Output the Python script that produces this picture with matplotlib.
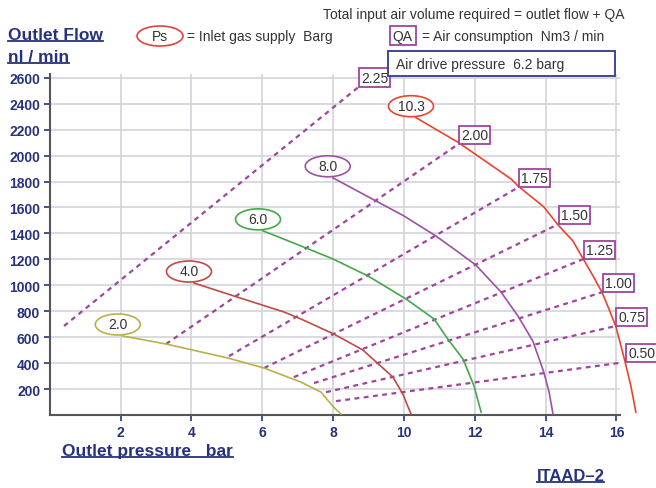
import matplotlib

matplotlib.use("Agg")
import matplotlib.pyplot as plt
from matplotlib.lines import Line2D
from matplotlib.patches import Ellipse, Rectangle
from matplotlib.transforms import ScaledTranslation

plt.rcParams["font.family"] = ["Liberation Sans", "DejaVu Sans"]

# inlet gas supply curves (Ps, barg)
ps_labels = ["2.0", "4.0", "6.0", "8.0", "10.3"]
ps_colors = ["#b8b04c", "#bf4b43", "#44a84a", "#9d50a6", "#e8442f"]
ps_x = [
    [2.06, 3.28, 5.03, 6.05, 7.09, 7.66, 7.99, 8.22],
    [4.07, 5.2, 6.61, 7.09, 8.02, 8.84, 9.69, 9.97, 10.2],
    [6.02, 7.09, 7.99, 8.98, 10.06, 10.85, 11.24, 11.67, 11.98, 12.18],
    [7.99, 9.15, 10.0, 10.9, 11.41, 12.03, 12.74, 13.22, 13.64, 13.95, 14.1, 14.21],
    [10.34, 11.55, 13.02, 13.25, 13.95, 14.35, 14.77, 15.08, 15.34, 15.59,
     15.79, 15.99, 16.24, 16.41, 16.55],
]
ps_y = [
    [610, 548, 440, 363, 255, 177, 69, 8],
    [1018, 918, 795, 741, 625, 502, 293, 162, 8],
    [1420, 1304, 1204, 1073, 895, 741, 586, 432, 224, 23],
    [1829, 1659, 1535, 1381, 1281, 1157, 949, 764, 571, 332, 177, 8],
    [2292, 2099, 1821, 1759, 1605, 1466, 1343, 1196, 1073, 949,
     818, 679, 417, 224, 23],
]

# air consumption lines (QA, Nm3/min)
qa_labels = ["2.25", "2.00", "1.75", "1.50", "1.25", "1.00", "0.75", "0.50"]
qa_x0 = [0.4, 3.28, 5.06, 6.05, 6.89, 7.46, 7.8, 8.08]
qa_y0 = [687, 548, 455, 363, 293, 247, 177, 108]
qa_x1 = [8.73, 11.55, 13.25, 14.38, 15.08, 15.62, 15.99, 16.27]
qa_y1 = [2531, 2091, 1759, 1474, 1204, 949, 687, 409]

x_ticks = [2, 4, 6, 8, 10, 12, 14, 16]
y_ticks = list(range(200, 2601, 200))

navy = "#26327e"
qa_color = "#a0449e"
text_color = "#333333"

fig = plt.figure(figsize=(6.56, 4.89), dpi=100)
ax = fig.add_axes([0.076, 0.149, 0.869, 0.698])

for x in x_ticks:
    ax.axvline(x, color="#d3d3dc", lw=1.2, zorder=0)
for y in y_ticks:
    ax.axhline(y, color="#d3d3dc", lw=1.2, zorder=0)

for x0, y0, x1, y1, lab in zip(qa_x0, qa_y0, qa_x1, qa_y1, qa_labels):
    ax.plot([x0, x1], [y0, y1], color=qa_color, lw=1.6, ls=(0, (2.2, 2.0)), zorder=2)
    ax.annotate(lab, (x1, y1), xytext=(1.5, 1.5), textcoords="offset points",
                ha="left", va="bottom", fontsize=10, color=text_color,
                bbox=dict(boxstyle="square,pad=0.15", fc="white", ec=qa_color, lw=1.3),
                annotation_clip=False, zorder=5)

for xs, ys, lab, c in zip(ps_x, ps_y, ps_labels, ps_colors):
    ax.plot(xs, ys, color=c, lw=1.2, zorder=3, clip_on=False)
    # fixed-size ellipse label sitting just above the curve start
    trans = fig.dpi_scale_trans + ScaledTranslation(xs[0], ys[0], ax.transData)
    ax.add_artist(Ellipse((-0.05, 0.115), 0.45, 0.21, transform=trans, fc="white",
                          ec=c, lw=1.2, zorder=5, clip_on=False))
    ax.annotate(lab, (xs[0], ys[0]), xytext=(-3.6, 8.3), textcoords="offset points",
                ha="center", va="center", fontsize=10, color=text_color,
                annotation_clip=False, zorder=6)

ax.set_xlim(0, 16.1)
ax.set_ylim(0, 2630)
ax.set_xticks(x_ticks)
ax.set_yticks(y_ticks)
ax.tick_params(axis="both", direction="out", length=4, width=1.2, color=navy,
               labelcolor=navy, labelsize=10, pad=3)
for lbl in ax.get_xticklabels() + ax.get_yticklabels():
    lbl.set_fontweight("bold")
for side in ["top", "right"]:
    ax.spines[side].set_visible(False)
for side in ["left", "bottom"]:
    ax.spines[side].set_color("#555555")
    ax.spines[side].set_linewidth(1.5)

# header texts
t_flow = fig.text(0.012, 0.918, "Outlet Flow", fontsize=12.5, fontweight="bold",
                  color=navy, va="baseline")
t_unit = fig.text(0.012, 0.874, "nl / min", fontsize=12.5, fontweight="bold",
                  color=navy, va="baseline")
t_press = fig.text(0.094, 0.068, "Outlet pressure   bar", fontsize=12.5,
                   fontweight="bold", color=navy)
t_code = fig.text(0.818, 0.016, "ITAAD\u20132", fontsize=12, fontweight="bold", color=navy)

fig.text(0.492, 0.962, "Total input air volume required = outlet flow + QA",
         fontsize=10, color=text_color)
fig.add_artist(Ellipse((0.2439, 0.9243), 0.0701, 0.0409, transform=fig.transFigure,
                       fc="white", ec="#e0423a", lw=1.2))
fig.text(0.2439, 0.9243, "Ps", fontsize=10, color=text_color, ha="center", va="center")
fig.text(0.285, 0.925, "= Inlet gas supply  Barg", fontsize=10, color=text_color,
         va="center")
fig.text(0.614, 0.925, "QA", fontsize=10, color=text_color, ha="center", va="center",
         bbox=dict(boxstyle="square,pad=0.2", fc="white", ec=qa_color, lw=1.3))
fig.text(0.643, 0.925, "= Air consumption  Nm3 / min", fontsize=10, color=text_color,
         va="center")
fig.add_artist(Rectangle((0.592, 0.842), 0.345, 0.051, transform=fig.transFigure,
                         fc="white", ec="#2c3a8c", lw=1.3, zorder=6))
fig.text(0.603, 0.867, "Air drive pressure  6.2 barg", fontsize=10, color=text_color,
         va="center", zorder=7)

# underline the bold labels
fig.canvas.draw()
W, H = fig.bbox.width, fig.bbox.height
for t in [t_flow, t_unit, t_press, t_code]:
    bb = t.get_window_extent()
    y = (bb.y0 + 1) / H
    fig.add_artist(Line2D([bb.x0 / W, bb.x1 / W], [y, y], transform=fig.transFigure,
                          color=navy, lw=1.3))

fig.savefig("out.png", dpi=100, facecolor="white")
